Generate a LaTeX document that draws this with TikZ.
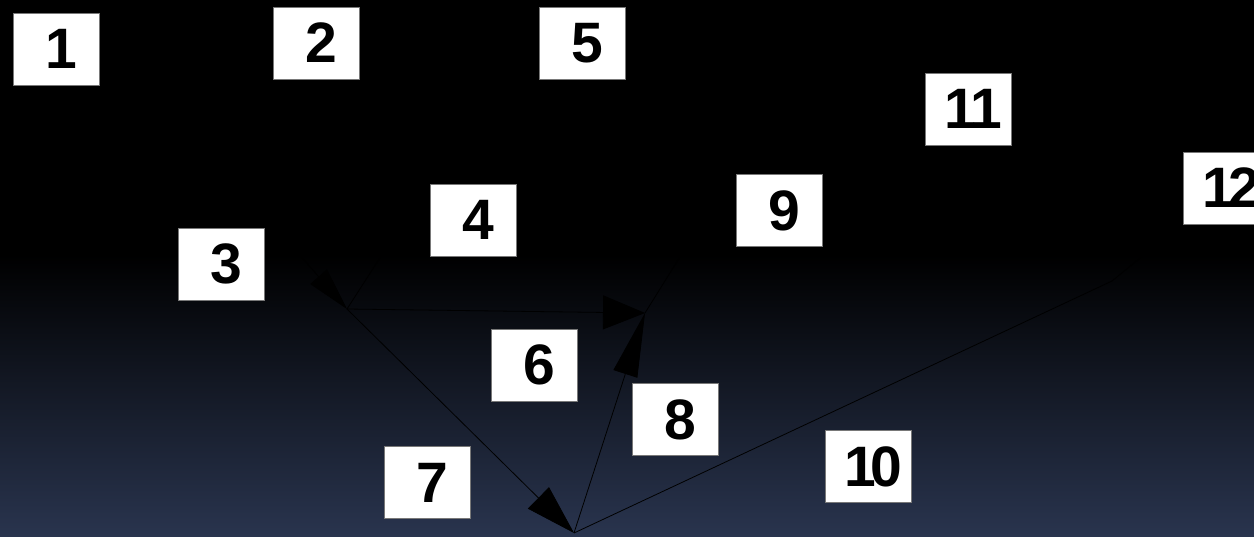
\documentclass[tikz,border=0pt]{standalone}
\usepackage{fontspec}
\setmainfont{Liberation Sans}
\usetikzlibrary{arrows.meta}
\definecolor{bgbottom}{RGB}{41,52,78}
\definecolor{boxedge}{RGB}{120,120,120}
\tikzset{
  numbox/.style={rectangle, fill=white, draw=boxedge, line width=0.8pt,
    minimum width=86pt, minimum height=72pt, inner sep=0pt,
    font=\fontsize{57pt}{57pt}\selectfont\bfseries, text=black},
  vec/.style={draw=black, line width=0.8pt},
}
\newcommand{\numtxt}[1]{\hspace*{10pt}#1}
\begin{document}
\begin{tikzpicture}[x=1pt,y=-1pt]
\useasboundingbox (0,0) rectangle (1254,536);
% background
\fill[black] (0,0) rectangle (1254,256);
\shade[top color=black, bottom color=bgbottom] (0,255) rectangle (1254,536);

% boxes
\node[numbox] (n1) at (56,49) {\numtxt{1}};
\node[numbox] (n2) at (316.5,43) {\numtxt{2}};
\node[numbox] (n3) at (221,264) {\numtxt{3}};
\node[numbox] (n4) at (473,220) {\numtxt{4}};
\node[numbox] (n5) at (582,43) {\numtxt{5}};
\node[numbox] (n6) at (534,365) {\numtxt{6}};
\node[numbox] (n7) at (427,482.5) {\numtxt{7}};
\node[numbox] (n8) at (675,419.5) {\numtxt{8}};
\node[numbox] (n9) at (779,210.5) {\numtxt{9}};
\node[numbox] (n10) at (868.5,466.5) {\numtxt{1\kern-6pt 0}};
\node[numbox] (n11) at (968.5,109) {\numtxt{1\kern-6pt 1}};
\node[numbox] (n12) at (1226,188) {\numtxt{1\kern-6pt 2}};

% junction points
\coordinate (A) at (347,309);
\coordinate (B) at (645,313);
\coordinate (C) at (574,533);
\coordinate (D) at (1112,281);
\coordinate (Ain) at (290,244);
\coordinate (Aout) at (385,250);
\coordinate (Bout) at (683,252);
\coordinate (Dout) at (1150,250);

% connectors
\draw[vec, -{Triangle[length=43pt,width=22pt]}] (Ain) -- (A);
\draw[vec] (A) -- (Aout);
\draw[vec, -{Triangle[length=42pt,width=34pt]}] (A) -- (B);
\draw[vec, -{Triangle[length=50pt,width=30pt]}] (A) -- (C);
\draw[vec, -{Triangle[length=64pt,width=25pt]}] (C) -- (B);
\draw[vec] (B) -- (Bout);
\draw[vec] (C) -- (D);
\draw[vec] (D) -- (Dout);
\end{tikzpicture}
\end{document}
